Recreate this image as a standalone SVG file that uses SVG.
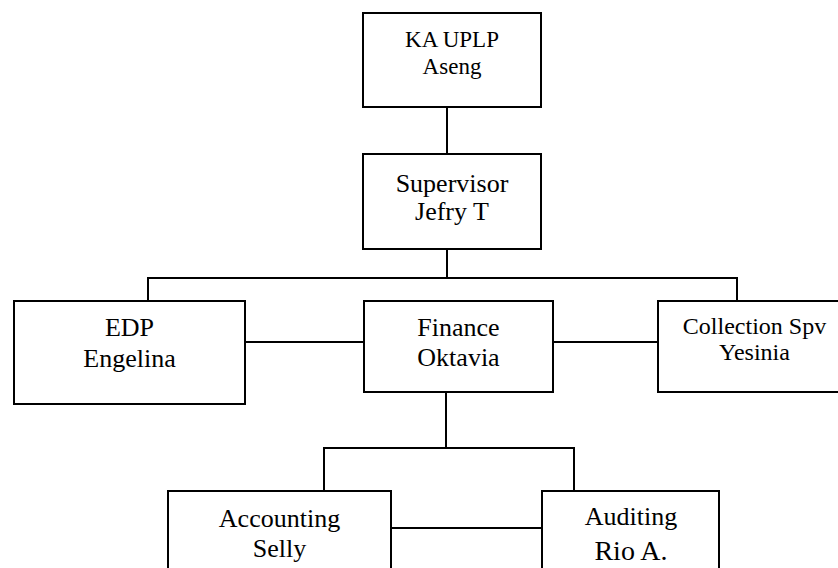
<svg xmlns="http://www.w3.org/2000/svg" width="838" height="568" viewBox="0 0 838 568">
  <style>
    .box { fill: #ffffff; stroke: #000000; stroke-width: 2; }
    .conn { fill: none; stroke: #000000; stroke-width: 2; }
    text { font-family: "Liberation Serif", "Times New Roman", Times, serif; fill: #000000; text-anchor: middle; }
    .t26 { font-size: 26px; }
    .t23 { font-size: 23px; }
    .t24 { font-size: 24px; }
    .t28 { font-size: 28px; }
  </style>
  <rect width="838" height="568" fill="#ffffff"/>
  <g id="connectors">
    <path class="conn" d="M447,107 V154"/>
    <path class="conn" d="M447,249 V278"/>
    <path class="conn" d="M148,301 V278 H737 V301"/>
    <path class="conn" d="M245,342 H364"/>
    <path class="conn" d="M553,342 H658"/>
    <path class="conn" d="M446,392 V448"/>
    <path class="conn" d="M324,491 V448 H574 V491"/>
    <path class="conn" d="M391,528 H542"/>
  </g>
  <g id="ka-uplp">
    <rect class="box" x="363" y="13" width="178" height="94"/>
    <text class="t23" x="452" y="47">KA UPLP</text>
    <text class="t23" x="452" y="74">Aseng</text>
  </g>
  <g id="supervisor">
    <rect class="box" x="363" y="154" width="178" height="95"/>
    <text class="t26" x="452" y="192">Supervisor</text>
    <text class="t26" x="452" y="220">Jefry T</text>
  </g>
  <g id="edp">
    <rect class="box" x="14" y="301" width="231" height="103"/>
    <text class="t26" x="129.5" y="336">EDP</text>
    <text class="t26" x="129.5" y="367">Engelina</text>
  </g>
  <g id="finance">
    <rect class="box" x="364" y="301" width="189" height="91"/>
    <text class="t26" x="458.5" y="336">Finance</text>
    <text class="t26" x="458.5" y="366">Oktavia</text>
  </g>
  <g id="collection">
    <rect class="box" x="658" y="301" width="193" height="91"/>
    <text class="t24" x="754.5" y="334">Collection Spv</text>
    <text class="t24" x="754.5" y="360">Yesinia</text>
  </g>
  <g id="accounting">
    <rect class="box" x="168" y="491" width="223" height="110"/>
    <text class="t26" x="279.5" y="527">Accounting</text>
    <text class="t26" x="279.5" y="557">Selly</text>
  </g>
  <g id="auditing">
    <rect class="box" x="542" y="491" width="177" height="110"/>
    <text class="t26" x="631" y="525">Auditing</text>
    <text class="t28" x="631" y="560">Rio A.</text>
  </g>
</svg>
